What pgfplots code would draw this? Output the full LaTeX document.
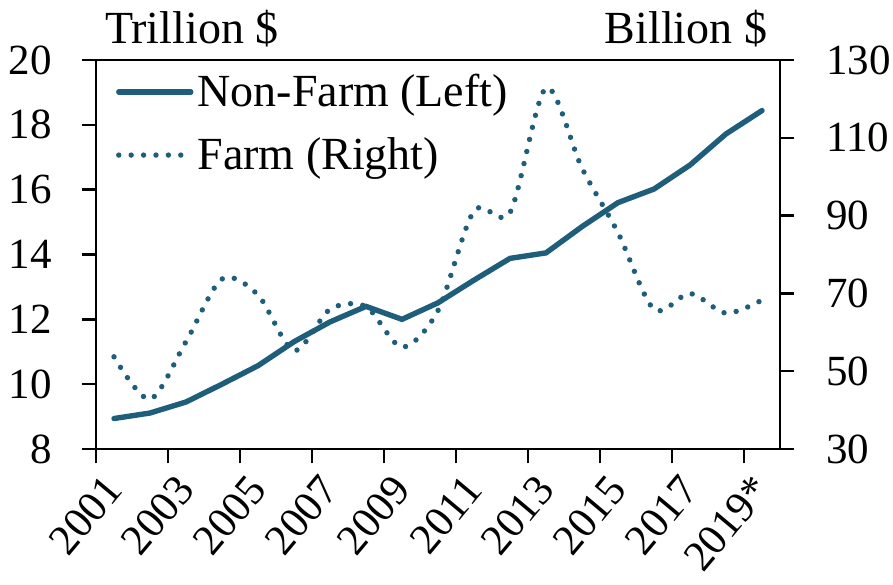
\documentclass[border=0pt]{standalone}
\usepackage{fontspec}
\setmainfont{Liberation Serif}
\usepackage{pgfplots}
\pgfplotsset{compat=1.18}
\definecolor{fline}{RGB}{31,94,122}

\begin{document}
\begin{tikzpicture}[font=\fontsize{23}{27}\selectfont]
\path[use as bounding box] (-48pt,-67.5pt) rectangle (398.5pt,224.5pt);
\pgfplotsset{
  every axis/.append style={
    scale only axis, width=342pt, height=194.5pt,
    at={(0,0)}, anchor=south west,
    xmin=0.5, xmax=19.5,
    tick align=outside, major tick length=7pt,
    axis line style={line width=1.2pt},
    every tick/.style={line width=1.2pt, black},
    /pgf/number format/assume math mode=true,
    tick label style={font=\fontsize{21.5}{25}\selectfont},
  }
}
% right axis: farm (drawn first so the non-farm line lies on top)
\begin{axis}[
  axis y line*=right, axis x line=none,
  ymin=30, ymax=130, ytick={30,50,...,130},
  yticklabel style={inner xsep=0pt, xshift=16pt},
]
\addplot[fline, line width=2.7pt, line cap=round, dash pattern=on 0pt off 6.2pt, smooth, tension=0.5]
  coordinates {(1,53.7) (2,42.8) (3,57.6) (4,73.7) (5,69.6) (6,55.3) (7,65.9) (8,66.6) (9,56.2) (10,65.6)
               (11,91.2) (12,90.8) (13,122.8) (14,102.2) (15,85.6) (16,65.9) (17,70.0) (18,64.9) (19,68.3)};
\end{axis}
% left axis: non-farm
\begin{axis}[
  ymin=8, ymax=20, ytick={8,10,...,20},
  ytick pos=left, xtick pos=bottom,
  yticklabel style={xshift=-11.5pt},
  xtick={0.5,2.5,...,18.5}, xticklabels={},
  extra x ticks={1,3,...,19},
  extra x tick labels={2001,2003,2005,2007,2009,2011,2013,2015,2017,2019*},
  extra x tick style={major tick length=0pt,
    xticklabel style={yshift=-14pt, xshift=2pt, rotate=50, anchor=east}},
  legend style={at={(0.02,0.985)}, anchor=north west, draw=none, fill=none,
    font=\fontsize{23}{27}\selectfont, row sep=10pt},
  legend cell align=left,
  legend image code/.code={\draw[#1] (0pt,0pt) -- (36pt,0pt);},
  clip=false,
]
\addplot[fline, line width=2.7pt, line cap=round] coordinates {
  (1,8.94) (2,9.11) (3,9.45) (4,10.0) (5,10.57) (6,11.31) (7,11.92) (8,12.4) (9,12.0) (10,12.51)
  (11,13.21) (12,13.88) (13,14.05) (14,14.86) (15,15.6) (16,16.02) (17,16.76) (18,17.72) (19,18.44)};
\addlegendentry{Non-Farm (Left)}
\addlegendimage{fline, line width=2.7pt, line cap=round, dash pattern=on 0pt off 6.2pt}
\addlegendentry{Farm (Right)}
\node[anchor=base] at ([yshift=8.5pt]rel axis cs:0.14,1) {Trillion \$};
\node[anchor=base] at ([yshift=8.5pt]rel axis cs:0.8626,1) {Billion \$};
\end{axis}
\end{tikzpicture}
\end{document}
